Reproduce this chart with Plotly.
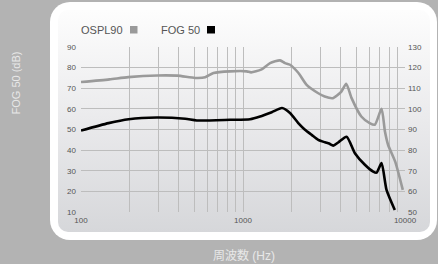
import base64
import plotly.graph_objects as go

# ---- data ----
ospl90_freq = [100, 150, 196, 296, 393, 507, 584, 657, 833, 1055, 1122, 1293, 1469, 1693,
               1817, 1951, 2200, 2480, 2898, 3192, 3591, 4048, 4336, 4682, 5375, 6052,
               6512, 7165, 7520, 7860, 8710, 9692]
ospl90_db = [113, 114.3, 115.4, 116.2, 116.1, 115, 115.3, 117.4, 118.2, 118.2, 117.7, 119,
             122.2, 123.5, 122.2, 121.4, 117.4, 111.5, 107.7, 106, 105.2, 108.4, 112.2,
             105.2, 96.3, 93.1, 92.3, 100, 89, 82.6, 74.3, 60.7]

fog50_freq = [100, 148, 197, 294, 440, 519, 833, 1106, 1275, 1505, 1741, 1951, 2194, 2413,
              2654, 2915, 3205, 3400, 3606, 3870, 4361, 4906, 5654, 6361, 6674, 7165, 7691, 8651]
fog50_db = [49.5, 53.1, 55, 55.8, 55.2, 54.4, 54.7, 55, 56.3, 58.4, 60.4, 58, 53.1, 49.9,
            47.4, 45, 43.8, 43.2, 42.2, 43.7, 46.5, 38.5, 32.9, 29.6, 29.1, 33.7, 20.7, 11]

x_tick_vals = [100, 1000, 10000]
x_tick_text = ["100", "1000", "10000"]
x_grid_vals = [200, 300, 400, 500, 600, 700, 800, 900, 1000,
               2000, 3000, 4000, 5000, 6000, 7000, 8000, 9000]
left_ticks = [10, 20, 30, 40, 50, 60, 70, 80, 90]
right_ticks = [50, 60, 70, 80, 90, 100, 110, 120, 130]
grid_y = [20, 30, 40, 50, 60, 70, 80]

# ---- geometry ----
W, H = 438, 264
ML, MR, MT, MB = 81, 33, 47, 52
PW, PH = W - ML - MR, H - MT - MB


def px(x):
    return (x - ML) / PW


def py(y):
    return (H - MB - y) / PH


FONT = "Liberation Sans, Arial, Noto Sans CJK JP, sans-serif"

svg = f'''<svg xmlns="http://www.w3.org/2000/svg" width="{W}" height="{H}" viewBox="0 0 {W} {H}" preserveAspectRatio="none">
<defs><linearGradient id="g" x1="0" y1="0" x2="0" y2="1">
<stop offset="0" stop-color="#fdfdfd"/><stop offset="0.5" stop-color="#eaeaec"/><stop offset="1" stop-color="#d6d7da"/>
</linearGradient></defs>
<rect x="50" y="2" width="387" height="238" rx="20" ry="20" fill="#ffffff"/>
<rect x="58" y="10" width="372" height="222" rx="10" ry="10" fill="url(#g)"/>
</svg>'''
src = "data:image/svg+xml;base64," + base64.b64encode(svg.encode()).decode()

fig = go.Figure()
fig.add_trace(go.Scatter(
    x=ospl90_freq, y=ospl90_db, yaxis="y2", mode="lines", name="OSPL90",
    line=dict(color="#9a9a9a", width=2.6, shape="spline", smoothing=0.6),
    showlegend=False, hoverinfo="skip"))
fig.add_trace(go.Scatter(
    x=fog50_freq, y=fog50_db, mode="lines", name="FOG 50",
    line=dict(color="#000000", width=2.6, shape="spline", smoothing=0.6),
    showlegend=False, hoverinfo="skip"))

tickfont = dict(family=FONT, size=8, color="#555555")
fig.update_layout(
    width=W, height=H,
    margin=dict(l=ML, r=MR, t=MT, b=MB, pad=0),
    paper_bgcolor="#b3b3b3",
    plot_bgcolor="rgba(0,0,0,0)",
    xaxis=dict(type="log", range=[2, 4], tickvals=x_tick_vals, ticktext=x_tick_text,
               showgrid=False, zeroline=False, showline=False, ticks="",
               tickfont=tickfont, ticklabelstandoff=2,
               minor=dict(tickvals=x_grid_vals, showgrid=True, gridcolor="#bdbdbd",
                          gridwidth=1, ticks="")),
    yaxis=dict(range=[10, 90], tickvals=left_ticks, showgrid=False, zeroline=False,
               showline=False, ticks="", tickfont=tickfont, ticklabelstandoff=4,
               minor=dict(tickvals=grid_y, showgrid=True, gridcolor="#bdbdbd",
                          gridwidth=1, ticks="")),
    yaxis2=dict(range=[50, 130], tickvals=right_ticks, overlaying="y", side="right",
                showgrid=False, zeroline=False, showline=False, ticks="",
                tickfont=tickfont, ticklabelstandoff=2),
    images=[dict(source=src, xref="paper", yref="paper", x=px(0), y=py(0),
                 sizex=W / PW, sizey=H / PH, xanchor="left", yanchor="top",
                 sizing="stretch", layer="below")],
)

# legend (text then square)
ann = []
ann.append(dict(text="OSPL90", x=px(79), y=py(29.5), xref="paper", yref="paper",
                xanchor="left", yanchor="middle", showarrow=False,
                font=dict(family=FONT, size=11, color="#555555")))
ann.append(dict(text="FOG 50", x=px(159), y=py(29.5), xref="paper", yref="paper",
                xanchor="left", yanchor="middle", showarrow=False,
                font=dict(family=FONT, size=11, color="#555555")))
ann.append(dict(text="FOG 50 (dB)", x=px(15.5), y=py(83), xref="paper", yref="paper",
                xanchor="center", yanchor="middle", textangle=-90, showarrow=False,
                font=dict(family=FONT, size=11, color="#e8e8e8")))
ann.append(dict(text="周波数 (Hz)", x=px(244), y=py(255.5), xref="paper", yref="paper",
                xanchor="center", yanchor="middle", showarrow=False,
                font=dict(family=FONT, size=12, color="#e8e8e8")))
fig.update_layout(annotations=ann)

shapes = [
    dict(type="rect", xref="paper", yref="paper", x0=px(130), x1=px(137.5),
         y0=py(33.5), y1=py(26), fillcolor="#9a9a9a", line=dict(width=0)),
    dict(type="rect", xref="paper", yref="paper", x0=px(207), x1=px(215),
         y0=py(33.5), y1=py(26), fillcolor="#000000", line=dict(width=0)),
]
fig.update_layout(shapes=shapes)

fig.write_html("out.html", config={"displayModeBar": False},
               post_script="document.body.style.margin='0';document.body.style.overflow='hidden';")
